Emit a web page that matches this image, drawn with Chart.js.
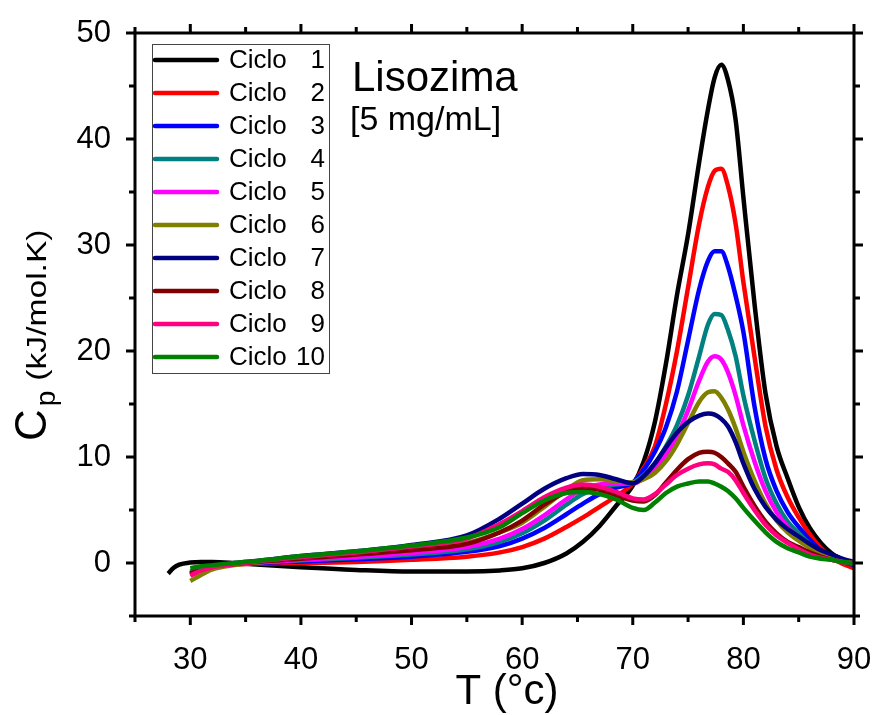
<!DOCTYPE html>
<html>
<head>
<meta charset="utf-8">
<script src="https://cdn.jsdelivr.net/npm/chart.js@4.4.1/dist/chart.umd.min.js"></script>
<style>
  html, body { margin: 0; padding: 0; background: #fff; }
  #wrap { width: 874px; height: 715px; position: relative; }
</style>
</head>
<body>
<div id="wrap"><canvas id="dscChart" width="874" height="715"></canvas></div>
<script>
// Temperatura (°C) comun a todos los ciclos
const temps = [28, 28.5, 29, 30, 31, 32, 34, 36, 40, 45, 50, 55, 58, 60, 62, 64, 65.5, 67, 68.5, 70,
  71, 72, 73, 74, 75, 76, 76.8, 77.4, 78, 78.6, 79.3, 80, 81, 82, 83, 84, 85, 86, 87, 88, 89, 90];

// Cp (kJ/mol.K) por ciclo
const ciclo1 = [-1.0, -0.45, -0.15, 0.05, 0.1, 0.1, 0.0, -0.15, -0.4, -0.65, -0.8, -0.8, -0.7, -0.5, 0.0, 0.9, 2.0, 3.5, 5.4, 7.3,
  9.6, 13.3, 18.8, 25.3, 31.0, 37.8, 42.8, 45.8, 47.0, 45.6, 41.8, 34.5, 24.5, 16.0, 11.0, 8.0, 5.3, 3.3, 1.9, 0.9, 0.3, -0.3];
const ciclo2 = [null, null, null, -0.8, -0.5, -0.3, -0.15, -0.05, 0.0, 0.1, 0.3, 0.6, 1.0, 1.5, 2.3, 3.4, 4.3, 5.3, 6.3, 7.5,
  9.0, 11.0, 15.0, 20.0, 26.0, 32.0, 35.5, 37.0, 37.2, 35.6, 32.0, 26.5, 19.5, 12.9, 8.8, 6.2, 4.3, 2.7, 1.4, 0.5, -0.1, -0.5];
const ciclo3 = [null, null, null, -1.0, -0.6, -0.35, -0.1, 0.0, 0.15, 0.35, 0.6, 1.05, 1.6, 2.3, 3.3, 4.6, 5.6, 6.5, 7.1, 7.6,
  8.8, 10.5, 12.8, 16.2, 21.0, 25.8, 28.5, 29.4, 29.4, 28.0, 25.2, 21.8, 14.8, 9.8, 6.8, 4.8, 3.4, 2.2, 1.2, 0.5, 0.1, -0.2];
const ciclo4 = [null, null, null, -0.9, -0.6, -0.35, -0.1, 0.05, 0.25, 0.5, 0.8, 1.3, 2.0, 2.8, 4.0, 5.5, 6.5, 7.1, 7.4, 7.6,
  8.3, 9.4, 11.0, 13.0, 15.8, 19.5, 22.5, 23.5, 23.4, 22.0, 19.5, 15.8, 11.6, 8.0, 5.6, 3.9, 2.8, 1.8, 1.0, 0.4, 0.1, -0.1];
const ciclo5 = [null, null, null, -1.0, -0.6, -0.35, -0.1, 0.05, 0.3, 0.6, 0.95, 1.5, 2.3, 3.2, 4.5, 6.0, 7.0, 7.4, 7.5, 7.5,
  8.0, 8.9, 10.2, 12.0, 14.4, 17.2, 19.0, 19.5, 19.2, 18.0, 15.8, 13.0, 9.6, 6.8, 4.8, 3.4, 2.4, 1.6, 0.9, 0.4, 0.1, 0.0];
const ciclo6 = [null, null, null, -1.7, -1.1, -0.6, -0.2, 0.05, 0.45, 0.85, 1.25, 1.9, 2.9, 3.8, 5.3, 6.9, 7.8, 7.9, 7.7, 7.6,
  7.9, 8.5, 9.6, 11.2, 13.2, 15.2, 16.1, 16.2, 15.6, 14.5, 12.7, 10.5, 7.8, 5.6, 4.0, 2.9, 2.1, 1.4, 0.8, 0.4, 0.1, 0.0];
const ciclo7 = [null, null, null, -1.1, -0.6, -0.3, 0.0, 0.2, 0.65, 1.1, 1.7, 2.6, 4.2, 5.6, 7.0, 8.0, 8.4, 8.3, 7.9, 7.5,
  8.2, 9.4, 10.9, 12.3, 13.3, 13.9, 14.1, 14.0, 13.6, 12.9, 11.4, 9.4, 7.0, 5.3, 4.1, 3.2, 2.5, 1.8, 1.2, 0.8, 0.4, 0.1];
const ciclo8 = [null, null, null, -1.0, -0.6, -0.35, -0.1, 0.1, 0.4, 0.8, 1.2, 1.8, 2.9, 4.0, 5.5, 6.7, 7.1, 6.9, 6.4, 5.9,
  5.8, 6.4, 7.6, 8.8, 9.8, 10.4, 10.5, 10.4, 10.0, 9.4, 8.6, 7.2, 5.4, 3.9, 2.8, 2.0, 1.5, 1.0, 0.6, 0.3, 0.1, 0.0];
const ciclo9 = [null, null, null, -1.2, -0.7, -0.4, -0.1, 0.15, 0.55, 1.0, 1.55, 2.3, 3.7, 4.9, 6.2, 7.1, 7.4, 7.2, 6.7, 6.1,
  6.0, 6.5, 7.4, 8.3, 8.9, 9.3, 9.4, 9.3, 8.9, 8.6, 7.8, 6.6, 5.0, 3.6, 2.6, 1.9, 1.3, 0.8, 0.5, 0.3, 0.1, 0.0];
const ciclo10 = [null, null, null, -0.5, -0.3, -0.2, 0.0, 0.2, 0.65, 1.1, 1.65, 2.4, 3.4, 4.7, 5.9, 6.6, 6.7, 6.5, 6.0, 5.2,
  5.0, 5.7, 6.6, 7.2, 7.5, 7.7, 7.7, 7.5, 7.2, 6.8, 6.1, 5.2, 4.0, 2.9, 2.0, 1.4, 1.0, 0.6, 0.4, 0.3, 0.1, 0.0];

const series = [ciclo1, ciclo2, ciclo3, ciclo4, ciclo5, ciclo6, ciclo7, ciclo8, ciclo9, ciclo10];
const labels = ['1', '2', '3', '4', '5', '6', '7', '8', '9', '10'];
const colors = ['#000000', '#ff0000', '#0000ff', '#008080', '#ff00ff', '#808000', '#000080', '#800000', '#ff0080', '#008000'];

const xTicks = [30, 40, 50, 60, 70, 80, 90];
const xMinor = [25, 35, 45, 55, 65, 75, 85];
const yTicks = [0, 10, 20, 30, 40, 50];
const yMinor = [-5, 5, 15, 25, 35, 45];

const FONT = '"Liberation Sans", Arial, sans-serif';

// marco, marcas de los ejes, leyenda y rótulos
const framePlugin = {
    id: 'frame',
    afterDraw(chart) {
        const { ctx, chartArea: a, scales: { x, y } } = chart;
        ctx.save();
        ctx.strokeStyle = '#000';
        ctx.lineWidth = 3;
        ctx.strokeRect(a.left, a.top, a.right - a.left, a.bottom - a.top);

        const tick = (vals, len) => {
            vals.forEach(v => {
                const px = x.getPixelForValue(v);
                ctx.beginPath();
                ctx.moveTo(px, a.bottom); ctx.lineTo(px, a.bottom + len);
                ctx.moveTo(px, a.top); ctx.lineTo(px, a.top - len);
                ctx.stroke();
            });
        };
        const tickY = (vals, len) => {
            vals.forEach(v => {
                const py = y.getPixelForValue(v);
                ctx.beginPath();
                ctx.moveTo(a.left, py); ctx.lineTo(a.left - len, py);
                ctx.moveTo(a.right, py); ctx.lineTo(a.right + len, py);
                ctx.stroke();
            });
        };
        ctx.lineWidth = 3;
        tick(xTicks, 9); tick(xMinor, 6);
        tickY(yTicks, 9); tickY(yMinor, 6);

        // leyenda
        const lx = 152, ly = 44, lw = 177, lh = 329;
        ctx.lineWidth = 1;
        ctx.strokeStyle = '#444';
        ctx.strokeRect(lx + 0.5, ly + 0.5, lw, lh);
        ctx.font = '26px ' + FONT;
        ctx.textBaseline = 'middle';
        chart.data.datasets.forEach((ds, i) => {
            const cy = 60 + i * 33;
            ctx.strokeStyle = ds.borderColor;
            ctx.lineWidth = 4.5;
            ctx.lineCap = 'round';
            ctx.beginPath();
            ctx.moveTo(155, cy); ctx.lineTo(217, cy);
            ctx.stroke();
            ctx.fillStyle = '#000';
            ctx.textAlign = 'left';
            ctx.fillText('Ciclo', 229, cy + 1);
            ctx.textAlign = 'right';
            ctx.fillText(labels[i], 325, cy + 1);
        });

        // rótulos dentro del gráfico
        ctx.textAlign = 'left';
        ctx.textBaseline = 'alphabetic';
        ctx.font = '42px ' + FONT;
        ctx.fillText('Lisozima', 352, 91);
        ctx.font = '34px ' + FONT;
        ctx.fillText('[5 mg/mL]', 350, 130);

        // título eje X
        ctx.textAlign = 'center';
        ctx.font = '42px ' + FONT;
        ctx.fillText('T (°c)', 507, 704);

        // título eje Y con subíndice
        ctx.save();
        ctx.translate(46, 441);
        ctx.rotate(-Math.PI / 2);
        ctx.textAlign = 'left';
        ctx.font = '44px ' + FONT;
        ctx.fillText('C', 0, 0);
        const wC = ctx.measureText('C').width;
        ctx.font = '28px ' + FONT;
        ctx.fillText('p', wC + 3, 9);
        const wp = ctx.measureText('p').width;
        ctx.translate(wC + wp + 13, 0);
        ctx.scale(1.2, 1);
        ctx.font = '28px ' + FONT;
        ctx.fillText('(kJ/mol.K)', 0, 0);
        ctx.restore();

        ctx.restore();
    }
};

const datasets = series.map((vals, i) => ({
    label: 'Ciclo ' + labels[i],
    data: temps.map((t, k) => ({ x: t, y: vals[k] })),
    borderColor: colors[i],
    backgroundColor: colors[i],
    borderWidth: 4.5,
    pointRadius: 0,
    fill: false,
    cubicInterpolationMode: 'monotone',
    spanGaps: false,
    order: 10 - i
}));

new Chart(document.getElementById('dscChart').getContext('2d'), {
    type: 'line',
    data: { datasets },
    plugins: [framePlugin],
    options: {
        responsive: false,
        animation: false,
        layout: { padding: { left: 0, top: 33, right: 20, bottom: 0 } },
        plugins: { legend: { display: false }, tooltip: { enabled: false } },
        scales: {
            x: {
                type: 'linear',
                min: 25, max: 90,
                grid: { display: false },
                border: { display: false },
                afterBuildTicks: s => { s.ticks = xTicks.map(v => ({ value: v })); },
                afterFit: s => { s.height = 99; s.paddingLeft = 0; s.paddingRight = 0; },
                ticks: { color: '#000', font: { size: 31, family: FONT }, padding: 18, maxRotation: 0 }
            },
            y: {
                type: 'linear',
                min: -5, max: 50,
                grid: { display: false },
                border: { display: false },
                afterBuildTicks: s => { s.ticks = yTicks.map(v => ({ value: v })); },
                afterFit: s => { s.width = 135; s.paddingTop = 0; s.paddingBottom = 0; },
                ticks: { color: '#000', font: { size: 31, family: FONT }, padding: 16 }
            }
        }
    }
});
</script>
</body>
</html>
